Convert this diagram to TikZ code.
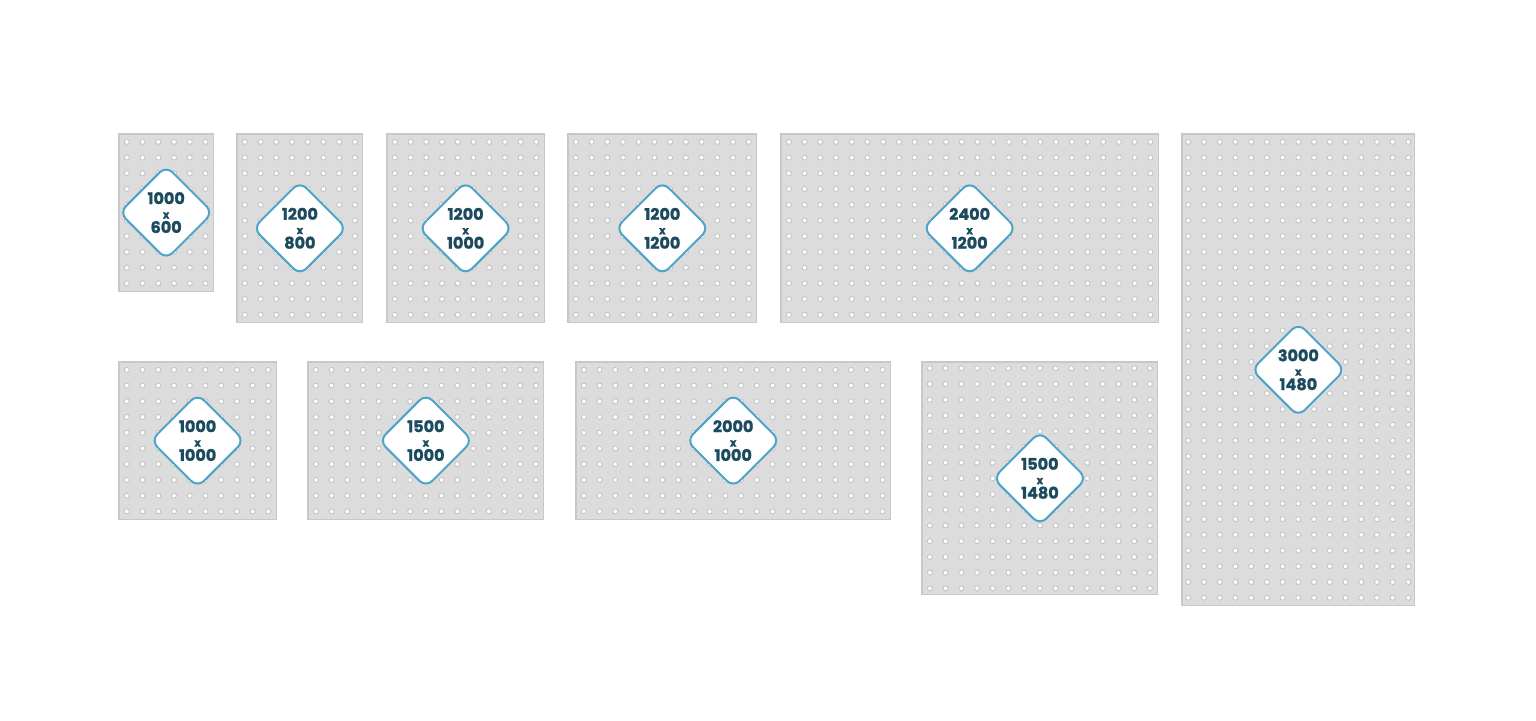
\documentclass[tikz,border=0pt]{standalone}
\usepackage{fontspec}
\setmainfont{Poppins}[BoldFeatures={FakeBold=1.3}]
\definecolor{panelfill}{HTML}{DCDCDC}
\definecolor{panelline}{HTML}{C8C8C8}
\definecolor{holeline}{HTML}{C2C2C2}
\definecolor{tagline}{HTML}{4EA3C8}
\definecolor{tagtext}{HTML}{1C4A5E}
\tikzset{
  panelbox/.style={fill=panelfill,draw=panelline,line width=1.2pt},
  hole/.style={fill=white,draw=holeline,line width=0.8pt},
  tagshape/.style={draw=tagline,fill=white,line width=2pt,rotate=45,
    minimum width=66pt,minimum height=66pt,rounded corners=9pt,inner sep=0pt},
  tagtxt/.style={text=tagtext,align=center,inner sep=0pt,
    font=\fontsize{16}{14.4}\selectfont\bfseries}
}
\newcommand\pegpanel[7]{%
  \pgfmathsetmacro\pw{#3*0.1572}%
  \pgfmathsetmacro\ph{#4*0.1572}%
  \pgfmathtruncatemacro\nx{round(#3/100)}%
  \pgfmathtruncatemacro\ny{round(#4/100)}%
  \pgfmathsetmacro\ox{(\pw-(\nx-1)*15.72)/2}%
  \pgfmathsetmacro\oy{(\ph-(\ny-1)*15.72)/2}%
  \draw[panelbox] (#1,#2) rectangle ++(\pw,\ph);
  \foreach \i in {1,...,\nx}{%
    \foreach \j in {1,...,\ny}{%
      \fill[hole] ({#1+\ox+(\i-1)*15.72},{#2+\oy+(\j-1)*15.72}) circle[radius=2.5pt];
    }%
  }%
  \node[tagshape] (#5) at ({#1+\pw/2},{#2+\ph/2}) {};
  \node[tagtxt] (#5-t) at (#5.center) {#6\\{\fontsize{11}{14.4}\selectfont x}\\#7};
}
\begin{document}
\begin{tikzpicture}[x=1pt,y=-1pt]
\useasboundingbox (0,0) rectangle (1536,720);
\fill[white] (0,0) rectangle (1536,720);
\pegpanel{119}{134}{600}{1000}{p1}{1000}{600}
\pegpanel{237}{134}{800}{1200}{p2}{1200}{800}
\pegpanel{387}{134}{1000}{1200}{p3}{1200}{1000}
\pegpanel{568}{134}{1200}{1200}{p4}{1200}{1200}
\pegpanel{781}{134}{2400}{1200}{p5}{2400}{1200}
\pegpanel{1182}{134}{1480}{3000}{p6}{3000}{1480}
\pegpanel{119}{362}{1000}{1000}{p7}{1000}{1000}
\pegpanel{308}{362}{1500}{1000}{p8}{1500}{1000}
\pegpanel{576}{362}{2000}{1000}{p9}{2000}{1000}
\pegpanel{922}{362}{1500}{1480}{p10}{1500}{1480}
\end{tikzpicture}
\end{document}
